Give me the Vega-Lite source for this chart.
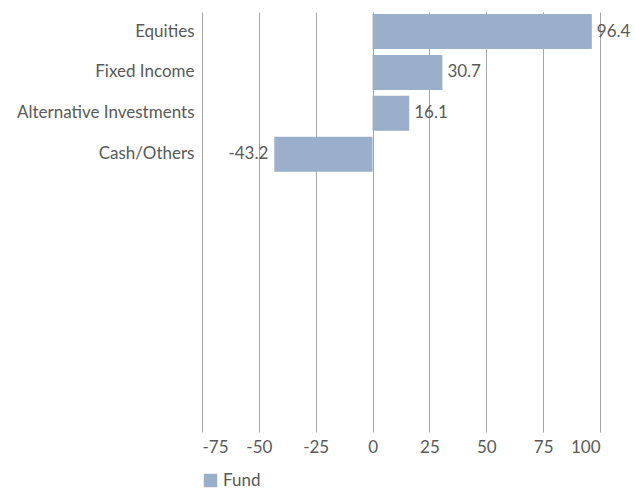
{
  "$schema": "https://vega.github.io/schema/vega-lite/v6.json",
  "autosize": "none",
  "width": 398,
  "height": 420,
  "padding": {"left": 202, "top": 12, "right": 35, "bottom": 61},
  "background": "white",
  "config": {
    "view": {"stroke": null},
    "font": "Lato",
    "axis": {"labelFont": "Lato", "labelColor": "#595959", "labelFontSize": 17}
  },
  "data": {
    "values": [
      {"category": "Equities", "value": 96.4, "series": "Fund"},
      {"category": "Fixed Income", "value": 30.7, "series": "Fund"},
      {"category": "Alternative Investments", "value": 16.1, "series": "Fund"},
      {"category": "Cash/Others", "value": -43.2, "series": "Fund"}
    ]
  },
  "encoding": {
    "y": {
      "field": "category",
      "type": "nominal",
      "scale": {
        "domain": ["Equities", "Fixed Income", "Alternative Investments", "Cash/Others", "_pad1", "_pad2", "_pad3", "_pad4", "_pad5", "_pad6"],
        "paddingInner": 0.144,
        "paddingOuter": 0.207,
        "align": 0.118
      },
      "axis": {
        "title": null,
        "ticks": false,
        "domain": false,
        "grid": false,
        "labelPadding": 8,
        "labelExpr": "indexof(datum.label, '_pad') >= 0 ? '' : datum.label"
      }
    },
    "x": {
      "field": "value",
      "type": "quantitative",
      "scale": {"domain": [-75, 100], "nice": false},
      "axis": {
        "title": null,
        "values": [-75, -50, -25, 0, 25, 50, 75, 100],
        "labelExpr": "toString(datum.value)",
        "grid": true,
        "gridColor": "#a6a6a6",
        "gridWidth": 1,
        "domain": false,
        "ticks": false,
        "labelPadding": 7
      }
    }
  },
  "layer": [
    {
      "mark": {"type": "bar"},
      "encoding": {
        "color": {
          "field": "series",
          "type": "nominal",
          "scale": {"range": ["#9aafc9"]},
          "legend": {
            "title": null,
            "orient": "none",
            "legendX": 0,
            "legendY": 460,
            "symbolType": "square",
            "symbolSize": 180,
            "symbolStrokeWidth": 0,
            "labelFont": "Lato",
            "labelFontSize": 17,
            "labelColor": "#595959",
            "labelOffset": 4
          }
        }
      }
    },
    {
      "transform": [{"calculate": "toString(datum.value)", "as": "label"}, {"filter": "datum.value >= 0"}],
      "mark": {"type": "text", "align": "left", "dx": 5, "font": "Lato", "fontSize": 17, "color": "#595959"},
      "encoding": {"text": {"field": "label", "type": "nominal"}}
    },
    {
      "transform": [{"calculate": "toString(datum.value)", "as": "label"}, {"filter": "datum.value < 0"}],
      "mark": {"type": "text", "align": "right", "dx": -6, "font": "Lato", "fontSize": 17, "color": "#595959"},
      "encoding": {"text": {"field": "label", "type": "nominal"}}
    }
  ]
}
